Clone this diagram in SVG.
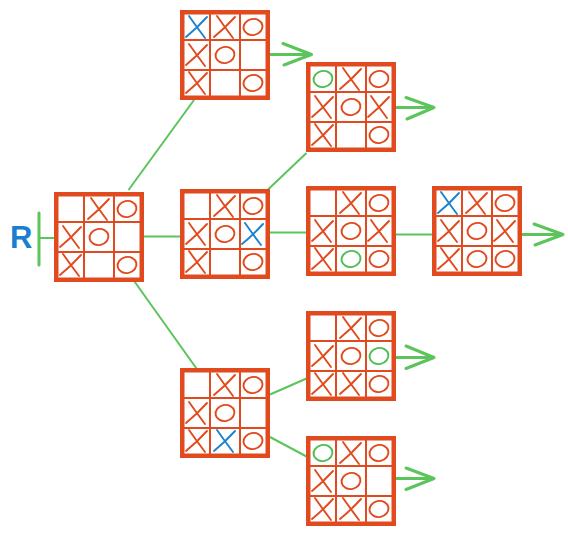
<svg xmlns="http://www.w3.org/2000/svg" xmlns:xlink="http://www.w3.org/1999/xlink" width="568" height="536" viewBox="0 0 568 536">
<style>
.frame{fill:#fff;stroke:#E04A1E;stroke-width:4.5}
.grid{stroke:#E04A1E;stroke-width:2;fill:none}
.m{fill:none;stroke-width:1.9;stroke-linecap:round;stroke-linejoin:round}
.r{stroke:#E2491C}
.b{stroke:#1E80CE}
.g{stroke:#4CBE52}
.c{stroke:#5BC45B;stroke-width:2;fill:none}
.a{stroke:#5BC45B;stroke-width:3;fill:none;stroke-linecap:round;stroke-linejoin:round}
.lbl{font-family:"Liberation Sans",Arial,sans-serif;font-weight:bold;font-size:31px;fill:#1A7FD0}
</style>
<defs>
<g id="board">
<rect class="frame" x="2.25" y="2.25" width="85.5" height="85.5"/>
<path class="grid" d="M30,4V86M60,4V86M4,30H86M4,60H86"/>
</g>
<path id="X" d="M-8,-11 Q-1,-1 8,11 M10,-10 Q0,1 -11,10"/>
<ellipse id="O" cx="0" cy="0" rx="9.5" ry="8" transform="rotate(-12)"/>
</defs>
<g id="connectors">
<path class="a" d="M39,213V265"/>
<path class="c" d="M39,238H54"/>
<path class="c" d="M128.5,190L194,100"/>
<path class="c" d="M144,236.5H180"/>
<path class="c" d="M134.5,281.5L196.5,368.5"/>
<path class="c" d="M267.5,190L306.5,153"/>
<path class="c" d="M270,232.5H306"/>
<path class="c" d="M396,234.5H432"/>
<path class="c" d="M270,394.5L306.5,378.5"/>
<path class="c" d="M270,437L306.5,456.5"/>
<path class="a" d="M270,54.5H311.5M283,43.5L311.5,54.5L284,65"/>
<path class="a" d="M396,107.5H434M406,97.5L434,107.5L407,119"/>
<path class="a" d="M396,357.5H434M406,346L434,357.5L406,368.5"/>
<path class="a" d="M396,478.5H434M406,468L434,478.5L406,489.5"/>
<path class="a" d="M522,234.5H563M534,224L563,234.5L535,245"/>
</g>
<text class="lbl" x="10" y="248">R</text>
<g id="root" transform="translate(54,192)">
<use href="#board"/>
<use href="#X" class="m r" x="45" y="17"/><use href="#O" class="m r" x="73" y="17"/>
<use href="#X" class="m r" x="17" y="45"/><use href="#O" class="m r" x="45" y="45"/>
<use href="#X" class="m r" x="17" y="73"/><use href="#O" class="m r" x="73" y="73"/>
</g>
<g id="top" transform="translate(180,10)">
<use href="#board"/>
<use href="#X" class="m b" x="17" y="17"/><use href="#X" class="m r" x="45" y="17"/><use href="#O" class="m r" x="73" y="17"/>
<use href="#X" class="m r" x="17" y="45"/><use href="#O" class="m r" x="45" y="45"/>
<use href="#X" class="m r" x="17" y="73"/><use href="#O" class="m r" x="73" y="73"/>
</g>
<g id="middle" transform="translate(180,189)">
<use href="#board"/>
<use href="#X" class="m r" x="45" y="17"/><use href="#O" class="m r" x="73" y="17"/>
<use href="#X" class="m r" x="17" y="45"/><use href="#O" class="m r" x="45" y="45"/><use href="#X" class="m b" x="73" y="45"/>
<use href="#X" class="m r" x="17" y="73"/><use href="#O" class="m r" x="73" y="73"/>
</g>
<g id="bottom" transform="translate(180,368)">
<use href="#board"/>
<use href="#X" class="m r" x="45" y="17"/><use href="#O" class="m r" x="73" y="17"/>
<use href="#X" class="m r" x="17" y="45"/><use href="#O" class="m r" x="45" y="45"/>
<use href="#X" class="m r" x="17" y="73"/><use href="#X" class="m b" x="45" y="73"/><use href="#O" class="m r" x="73" y="73"/>
</g>
<g id="c3r1" transform="translate(306,62)">
<use href="#board"/>
<use href="#O" class="m g" x="17" y="17"/><use href="#X" class="m r" x="45" y="17"/><use href="#O" class="m r" x="73" y="17"/>
<use href="#X" class="m r" x="17" y="45"/><use href="#O" class="m r" x="45" y="45"/><use href="#X" class="m r" x="73" y="45"/>
<use href="#X" class="m r" x="17" y="73"/><use href="#O" class="m r" x="73" y="73"/>
</g>
<g id="c3r2" transform="translate(306,186)">
<use href="#board"/>
<use href="#X" class="m r" x="45" y="17"/><use href="#O" class="m r" x="73" y="17"/>
<use href="#X" class="m r" x="17" y="45"/><use href="#O" class="m r" x="45" y="45"/><use href="#X" class="m r" x="73" y="45"/>
<use href="#X" class="m r" x="17" y="73"/><use href="#O" class="m g" x="45" y="73"/><use href="#O" class="m r" x="73" y="73"/>
</g>
<g id="c4" transform="translate(432,186)">
<use href="#board"/>
<use href="#X" class="m b" x="17" y="17"/><use href="#X" class="m r" x="45" y="17"/><use href="#O" class="m r" x="73" y="17"/>
<use href="#X" class="m r" x="17" y="45"/><use href="#O" class="m r" x="45" y="45"/><use href="#X" class="m r" x="73" y="45"/>
<use href="#X" class="m r" x="17" y="73"/><use href="#O" class="m r" x="45" y="73"/><use href="#O" class="m r" x="73" y="73"/>
</g>
<g id="c3r3" transform="translate(306,311)">
<use href="#board"/>
<use href="#X" class="m r" x="45" y="17"/><use href="#O" class="m r" x="73" y="17"/>
<use href="#X" class="m r" x="17" y="45"/><use href="#O" class="m r" x="45" y="45"/><use href="#O" class="m g" x="73" y="45"/>
<use href="#X" class="m r" x="17" y="73"/><use href="#X" class="m r" x="45" y="73"/><use href="#O" class="m r" x="73" y="73"/>
</g>
<g id="c3r4" transform="translate(306,436)">
<use href="#board"/>
<use href="#O" class="m g" x="17" y="17"/><use href="#X" class="m r" x="45" y="17"/><use href="#O" class="m r" x="73" y="17"/>
<use href="#X" class="m r" x="17" y="45"/><use href="#O" class="m r" x="45" y="45"/>
<use href="#X" class="m r" x="17" y="73"/><use href="#X" class="m r" x="45" y="73"/><use href="#O" class="m r" x="73" y="73"/>
</g>
</svg>
